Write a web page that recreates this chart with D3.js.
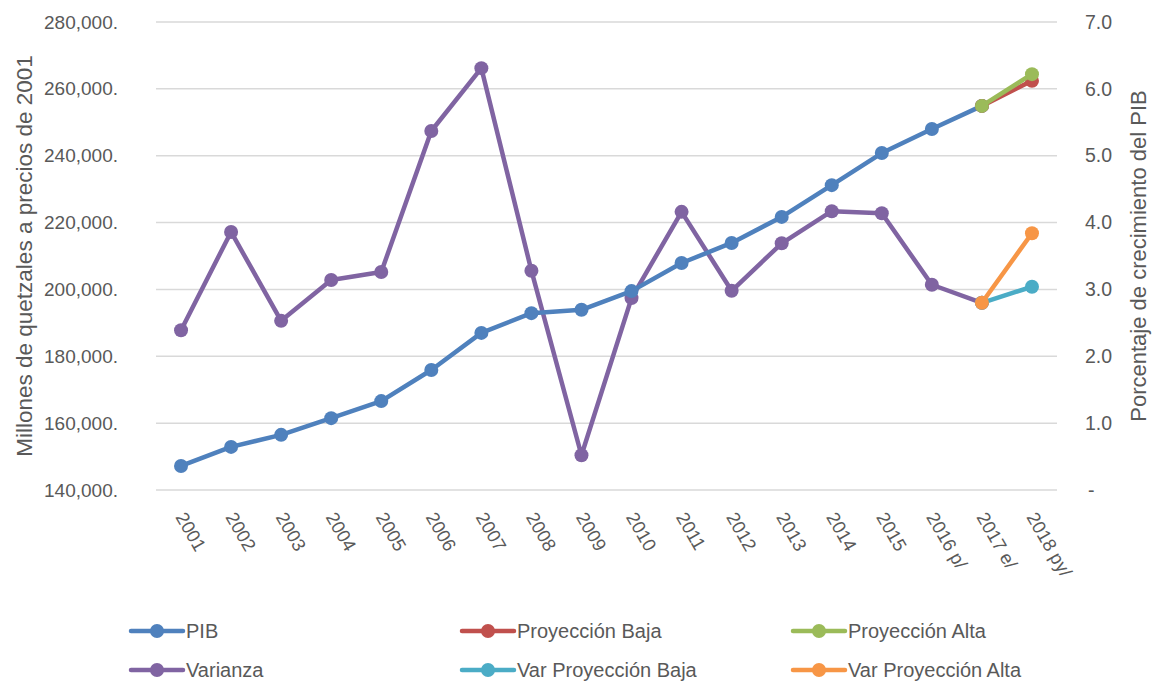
<!DOCTYPE html>
<html>
<head>
<meta charset="utf-8">
<script src="https://cdn.jsdelivr.net/npm/d3@7"></script>
<style>
  html, body { margin: 0; padding: 0; background: #fff; }
  svg text { font-family: "Liberation Sans", "Noto Sans", sans-serif; fill: #595959; }
</style>
</head>
<body>
<svg id="chart" width="1152" height="681"></svg>
<script>
// Years on the category axis
const years = ["2001","2002","2003","2004","2005","2006","2007","2008","2009",
  "2010","2011","2012","2013","2014","2015","2016 p/","2017 e/","2018 py/"];

// GDP, millions of quetzales at 2001 prices
const pib = [147200, 152900, 156500, 161500, 166600, 175900, 187000, 192900, 193900,
  199500, 207900, 213900, 221700, 231200, 240800, 248000, 254900];
const proyBaja = [["2017 e/", 254900], ["2018 py/", 262400]];
const proyAlta = [["2017 e/", 254900], ["2018 py/", 264400]];

// GDP growth rate, percent
const varianza = [2.39, 3.86, 2.53, 3.14, 3.26, 5.37, 6.31, 3.28, 0.52,
  2.87, 4.16, 2.98, 3.69, 4.17, 4.14, 3.07, 2.80];
const varBaja = [["2017 e/", 2.80], ["2018 py/", 3.04]];
const varAlta = [["2017 e/", 2.80], ["2018 py/", 3.84]];

const leftTicks = [140000, 160000, 180000, 200000, 220000, 240000, 260000, 280000];
const rightTicks = [0, 1, 2, 3, 4, 5, 6, 7];

const colors = {
  pib: "#4F81BD", baja: "#C0504D", alta: "#9BBB59",
  varianza: "#8064A2", varBaja: "#4BACC6", varAlta: "#F79646"
};

const svg = d3.select("#chart");
const plot = { left: 156, right: 1057, top: 22, bottom: 490 };

const x = d3.scalePoint().domain(years).range([plot.left, plot.right]).padding(0.5);
const yL = d3.scaleLinear().domain([140000, 280000]).range([plot.bottom, plot.top]);
const yR = d3.scaleLinear().domain([0, 7]).range([plot.bottom, plot.top]);

// Gridlines
svg.append("g").selectAll("line").data(leftTicks).join("line")
  .attr("x1", plot.left).attr("x2", plot.right)
  .attr("y1", d => yL(d)).attr("y2", d => yL(d))
  .attr("stroke", "#D9D9D9").attr("stroke-width", 1.5);

// Left axis
const leftAxis = svg.append("g").attr("transform", `translate(${plot.left - 38},0)`)
  .call(d3.axisLeft(yL).tickValues(leftTicks).tickSize(0).tickPadding(0)
    .tickFormat(d => d3.format(",")(d) + "."));
leftAxis.select(".domain").remove();
leftAxis.selectAll("text").style("font-size", "19px").attr("fill", "#595959");

// Right axis
const rightAxis = svg.append("g").attr("transform", `translate(${plot.right + 28},0)`)
  .call(d3.axisRight(yR).tickValues(rightTicks).tickSize(0).tickPadding(0)
    .tickFormat(d => d === 0 ? "-" : d3.format(".1f")(d)));
rightAxis.select(".domain").remove();
rightAxis.selectAll("text").style("font-size", "19.5px").attr("fill", "#595959")
  .attr("dx", d => d === 0 ? 3 : 0);

// Category labels, rotated
svg.append("g").selectAll("text").data(years).join("text")
  .attr("transform", d => `translate(${x(d) - 6},${plot.bottom + 27}) rotate(60)`)
  .style("font-size", "18.5px")
  .text(d => d);

// Axis titles
svg.append("text")
  .attr("transform", `translate(32,${(plot.top + plot.bottom) / 2}) rotate(-90)`)
  .attr("text-anchor", "middle").style("font-size", "22.5px")
  .text("Millones de quetzales a precios de 2001");
svg.append("text")
  .attr("transform", `translate(1146,${(plot.top + plot.bottom) / 2}) rotate(-90)`)
  .attr("text-anchor", "middle").style("font-size", "22px")
  .text("Porcentaje de crecimiento del PIB");

function series(pairs, yScale, color) {
  const g = svg.append("g");
  g.append("path").datum(pairs)
    .attr("fill", "none").attr("stroke", color).attr("stroke-width", 4.5)
    .attr("stroke-linejoin", "round").attr("stroke-linecap", "round")
    .attr("d", d3.line().x(d => x(d[0])).y(d => yScale(d[1])));
  g.selectAll("circle").data(pairs).join("circle")
    .attr("cx", d => x(d[0])).attr("cy", d => yScale(d[1])).attr("r", 7)
    .attr("fill", color);
}

series(varianza.map((v, i) => [years[i], v]), yR, colors.varianza);
series(varBaja, yR, colors.varBaja);
series(varAlta, yR, colors.varAlta);
series(pib.map((v, i) => [years[i], v]), yL, colors.pib);
series(proyBaja, yL, colors.baja);
series(proyAlta, yL, colors.alta);

// Legend
const legendItems = [
  { name: "PIB", color: colors.pib, col: 0, row: 0 },
  { name: "Proyección Baja", color: colors.baja, col: 1, row: 0 },
  { name: "Proyección Alta", color: colors.alta, col: 2, row: 0 },
  { name: "Varianza", color: colors.varianza, col: 0, row: 1 },
  { name: "Var Proyección Baja", color: colors.varBaja, col: 1, row: 1 },
  { name: "Var Proyección Alta", color: colors.varAlta, col: 2, row: 1 }
];
const colX = [131, 462, 793];
const rowY = [631, 670];
const lg = svg.append("g").selectAll("g").data(legendItems).join("g")
  .attr("transform", d => `translate(${colX[d.col]},${rowY[d.row]})`);
lg.append("line").attr("x1", 0).attr("x2", 52).attr("y1", 0).attr("y2", 0)
  .attr("stroke", d => d.color).attr("stroke-width", 4.5).attr("stroke-linecap", "round");
lg.append("circle").attr("cx", 26).attr("cy", 0).attr("r", 7).attr("fill", d => d.color);
lg.append("text").attr("x", 55).attr("dy", "0.35em").style("font-size", "20px")
  .text(d => d.name);
</script>
</body>
</html>
